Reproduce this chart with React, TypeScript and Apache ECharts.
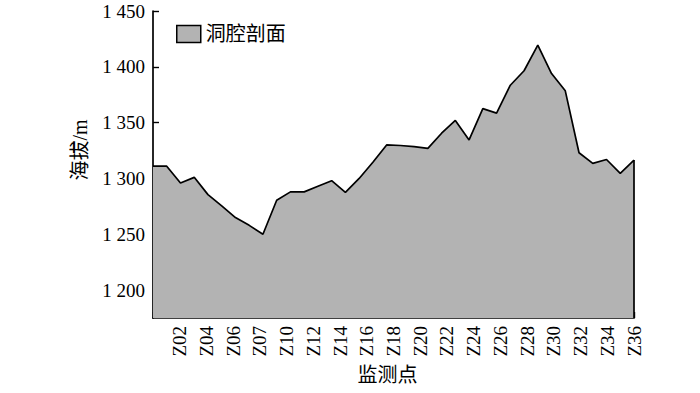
import React, { useEffect, useRef } from "react";
import * as echarts from "echarts";

const categories = [
  "Z01", "Z02", "Z03", "Z04", "Z05", "Z06", "Z07", "Z08", "Z09", "Z10", "Z11", "Z12",
  "Z13", "Z14", "Z15", "Z16", "Z17", "Z18", "Z19", "Z20", "Z21", "Z22", "Z23", "Z24",
  "Z25", "Z26", "Z27", "Z28", "Z29", "Z30", "Z31", "Z32", "Z33", "Z34", "Z35", "Z36",
];

const elevation = [
  1311, 1311, 1296, 1301, 1285.5, 1275.5, 1265, 1258, 1250, 1280.5, 1288, 1288,
  1293, 1298, 1287.5, 1300, 1314.5, 1330, 1329.5, 1328.5, 1327, 1340.5, 1352, 1334.5,
  1362.5, 1358.5, 1383.5, 1396.5, 1419.5, 1394, 1378.5, 1323, 1313.5, 1317, 1304.5, 1316.5,
];

const tickLabels = [
  "", "Z02", "Z04", "Z06", "Z07", "Z10", "Z12", "Z14", "Z16", "Z18",
  "Z20", "Z22", "Z24", "Z26", "Z28", "Z30", "Z32", "Z34", "Z36",
];

const seriesName = "洞腔剖面";
const yMin = 1175;
const yMax = 1450;

const serif = "'Liberation Serif', 'Times New Roman', 'Noto Sans CJK SC', serif";
const cjk = "'Liberation Serif', 'Noto Sans CJK SC', sans-serif";

export default function App() {
  const ref = useRef<HTMLDivElement>(null);

  useEffect(() => {
    if (!ref.current) return;
    const chart = echarts.init(ref.current, null, { renderer: "svg" });
    const lastIdx = categories.length - 1;
    chart.setOption({
      animation: false,
      backgroundColor: "#ffffff",
      grid: { left: 153, right: 66, top: 11, bottom: 75, containLabel: false },
      legend: {
        show: true,
        left: 171,
        top: 19,
        icon: "rect",
        itemWidth: 24,
        itemHeight: 17,
        itemStyle: { color: "#b3b3b3", borderColor: "#000000", borderWidth: 1.5 },
        textStyle: { fontSize: 20, color: "#000000", fontFamily: cjk },
        data: [seriesName],
      },
      xAxis: [
        {
          type: "category",
          data: categories,
          boundaryGap: false,
          show: false,
          position: "bottom",
        },
        {
          type: "category",
          data: tickLabels,
          boundaryGap: false,
          position: "bottom",
          offset: 0,
          name: "监测点",
          nameLocation: "middle",
          nameGap: 47,
          nameTextStyle: {
            fontSize: 20,
            color: "#000000",
            fontFamily: cjk,
            padding: [0, 12, 0, 0],
          },
          axisLine: { show: true, lineStyle: { color: "#000000", width: 1.7 } },
          axisTick: {
            show: true,
            inside: true,
            length: 6,
            interval: 0,
            lineStyle: { color: "#000000", width: 1.4 },
          },
          axisLabel: {
            interval: 0,
            rotate: 90,
            margin: 8,
            fontSize: 19,
            color: "#000000",
            fontFamily: serif,
          },
          splitLine: { show: false },
        },
      ],
      yAxis: {
        type: "value",
        min: yMin,
        max: yMax,
        name: "海拔/m",
        nameLocation: "middle",
        nameGap: 63,
        nameTextStyle: {
          fontSize: 20,
          color: "#000000",
          fontFamily: cjk,
          padding: [0, 0, 0, 29],
        },
        axisLine: { show: true, lineStyle: { color: "#000000", width: 1.7 } },
        axisTick: {
          show: true,
          inside: true,
          length: 6,
          lineStyle: { color: "#000000", width: 1.4 },
        },
        axisLabel: {
          showMinLabel: false,
          showMaxLabel: true,
          margin: 8,
          fontSize: 19,
          color: "#000000",
          fontFamily: serif,
          formatter: (v: number) =>
            v % 50 === 0 ? String(v).replace(/^(\d)(\d{3})$/, "$1 $2") : "",
        },
        splitLine: { show: false },
      },
      series: [
        {
          name: seriesName,
          type: "line",
          xAxisIndex: 0,
          yAxisIndex: 0,
          data: elevation,
          symbol: "none",
          itemStyle: { color: "#b3b3b3" },
          lineStyle: { color: "#000000", width: 1.7 },
          areaStyle: { color: "#b3b3b3", opacity: 1, origin: "start" },
          markLine: {
            silent: true,
            symbol: "none",
            label: { show: false },
            lineStyle: { color: "#000000", width: 1.7, type: "solid" },
            data: [
              [
                { coord: [categories[lastIdx], yMin] },
                { coord: [categories[lastIdx], elevation[lastIdx]] },
              ],
            ],
          },
        },
      ],
    });
    return () => chart.dispose();
  }, []);

  return (
    <div
      ref={ref}
      style={{ position: "absolute", left: 0, top: 0, width: 700, height: 393 }}
    />
  );
}
